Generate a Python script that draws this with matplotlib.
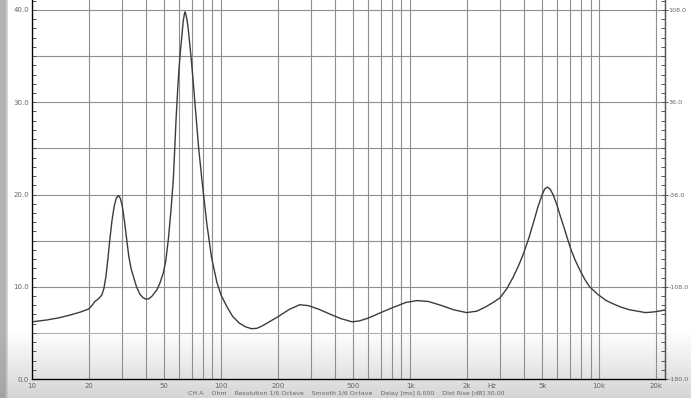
import numpy as np
import matplotlib
matplotlib.use("Agg")
import matplotlib.pyplot as plt
from matplotlib.ticker import FixedLocator, NullFormatter

# ---- data ----
freq_hz = [10, 12, 14, 16, 18, 20, 21, 21.5, 22.5, 23.4, 24, 24.6, 25.2, 25.8, 26.5,
           27.2, 27.9, 28.6, 29.3, 30, 30.8, 31.7, 32.5, 33.4, 34.4, 35.7, 37.2, 38.5,
           40, 41.5, 43, 45.7, 47.5, 49.5, 51, 52.6, 54.3, 55.9, 57, 57.8, 59, 60, 61,
           62, 63, 64, 64.5, 65, 66, 67, 68, 69.4, 71, 72.5, 73.8, 76, 79.2, 84, 89, 95,
           100, 107, 115, 125, 135, 145, 155, 165, 180, 200, 230, 261, 290, 330, 380,
           430, 493, 540, 600, 700, 800, 950, 1090, 1250, 1450, 1700, 1990, 2250,
           2500, 2750, 2990, 3250, 3500, 3750, 3980, 4250, 4500, 4750, 5000, 5150,
           5320, 5500, 5700, 5950, 6200, 6500, 6800, 7100, 7500, 8000, 8450, 8900,
           9800, 10900, 12000, 13000, 14500, 16500, 17500, 19000, 20000, 22300]
impedance_ohm = [6.2, 6.4, 6.65, 6.95, 7.25, 7.6, 8.1, 8.4, 8.7, 9.1, 9.8, 11.1, 13.0,
                 15.1, 17.2, 18.7, 19.6, 19.9, 19.6, 18.8, 17.2, 15.1, 13.3, 12.0, 11.1,
                 10.0, 9.2, 8.85, 8.65, 8.7, 8.95, 9.65, 10.4, 11.5, 12.8, 15.1, 18.2,
                 21.6, 25.3, 28.1, 31.5, 33.8, 35.6, 37.1, 38.7, 39.6, 39.8, 39.6, 39.0,
                 38.0, 36.7, 34.9, 32.6, 30.3, 28.4, 25.2, 21.6, 16.9, 13.2, 10.5, 9.1,
                 7.9, 6.8, 6.05, 5.65, 5.45, 5.5, 5.75, 6.2, 6.75, 7.55, 8.05, 7.95, 7.55,
                 7.0, 6.55, 6.2, 6.3, 6.6, 7.2, 7.7, 8.3, 8.5, 8.4, 8.0, 7.5, 7.2, 7.35,
                 7.8, 8.3, 8.8, 9.8, 11.0, 12.3, 13.6, 15.3, 17.0, 18.7, 20.0, 20.6,
                 20.8, 20.6, 20.0, 19.0, 17.8, 16.5, 15.2, 14.0, 12.8, 11.6, 10.7, 10.0,
                 9.2, 8.5, 8.1, 7.8, 7.5, 7.3, 7.2, 7.25, 7.3, 7.48]

x_tick_vals = [10, 20, 50, 100, 200, 500, 1000, 2000, 2720, 5000, 10000, 20000]
x_tick_labels = ["10", "20", "50", "100", "200", "500", "1k", "2k", "Hz", "5k", "10k", "20k"]
left_tick_vals = [0, 10, 20, 30, 40]
left_tick_labels = ["0.0", "10.0", "20.0", "30.0", "40.0"]
right_tick_vals = [-180, -108, -36, 36, 108]
right_tick_labels = ["-180.0", "-108.0", "-36.0", "36.0", "108.0"]
footer = "CH A    Ohm    Resolution 1/6 Octave    Smooth 1/6 Octave    Delay [ms] 0.000    Dist Rise [dB] 30.00"

W, H = 691, 398
fig = plt.figure(figsize=(W / 100, H / 100), dpi=100)
fig.patch.set_facecolor("white")

# background gradient (bottom fade + left dark strip)
bg = fig.add_axes([0, 0, 1, 1], zorder=-10)
bg.set_axis_off()
img = np.ones((H, W))
rows = np.arange(H)
fade = np.clip((rows - 330) / (H - 330), 0, 1)
col = 1.0 - 0.17 * fade
img *= col[:, None]
img[:, :6] = 0.70 - 0.06 * fade[:, None]
img[:, 6:8] = 0.82 - 0.06 * fade[:, None]
bg.imshow(img, cmap="gray", vmin=0, vmax=1, aspect="auto", extent=[0, W, H, 0],
          interpolation="bilinear")
bg.set_xlim(0, W)
bg.set_ylim(H, 0)

x0, x1 = 32 / W, 665 / W
y0 = 1 - 379 / H
ax = fig.add_axes([x0, y0, x1 - x0, 1 - y0])
ax.set_facecolor("none")
ax.set_xscale("log")
ax.set_xlim(10, 22300)
ytop = 379 / 9.225
ax.set_ylim(0, ytop)

gridc = "#8e8e8e"
vgrid = [m * 10 ** e for e in range(1, 5) for m in range(1, 10)]
vgrid = [v for v in vgrid if 10 < v <= 20000]
for v in vgrid:
    ax.axvline(v, color=gridc, lw=0.8, zorder=1)
for h in range(5, 41, 5):
    ax.axhline(h, color=gridc if h != 5 else "#b0b0b0", lw=0.8, zorder=1)

ax.plot(freq_hz, impedance_ohm, color="#3c3c3c", lw=1.0, zorder=3)

ax.spines["top"].set_visible(False)
for s in ["left", "bottom", "right"]:
    ax.spines[s].set_color("#555555")
    ax.spines[s].set_linewidth(1.0)

ax.xaxis.set_major_locator(FixedLocator(x_tick_vals))
ax.set_xticklabels(x_tick_labels)
ax.xaxis.set_minor_locator(FixedLocator([]))
ax.tick_params(axis="x", which="both", length=0, pad=3, labelsize=5, labelcolor="#666666")

ax.yaxis.set_major_locator(FixedLocator(left_tick_vals))
ax.set_yticklabels(left_tick_labels)
ax.yaxis.set_minor_locator(FixedLocator(list(range(0, 42))))
ax.yaxis.set_minor_formatter(NullFormatter())
ax.tick_params(axis="y", which="major", direction="in", length=3, width=0.7,
               color="#555555", pad=2, labelsize=5, labelcolor="#666666")
ax.tick_params(axis="y", which="minor", direction="in", length=3, width=0.7, color="#555555")

ax2 = ax.twinx()
ax2.set_ylim(-180, -180 + ytop * 7.2)
ax2.yaxis.set_major_locator(FixedLocator(right_tick_vals))
ax2.set_yticklabels(right_tick_labels)
ax2.yaxis.set_minor_locator(FixedLocator([-180 + 7.2 * i for i in range(0, 42)]))
ax2.yaxis.set_minor_formatter(NullFormatter())
ax2.tick_params(axis="y", which="major", direction="inout", length=4, width=0.7,
                color="#555555", pad=0.5, labelsize=4.6, labelcolor="#666666")
ax2.tick_params(axis="y", which="minor", direction="in", length=3, width=0.7, color="#555555")
ax2.spines["top"].set_visible(False)
ax2.spines["right"].set_color("#555555")

fig.text(346 / W, 1 - 393.5 / H, footer, fontsize=4.5, color="#666666", ha="center", va="center")

fig.savefig("out.png", dpi=100)
